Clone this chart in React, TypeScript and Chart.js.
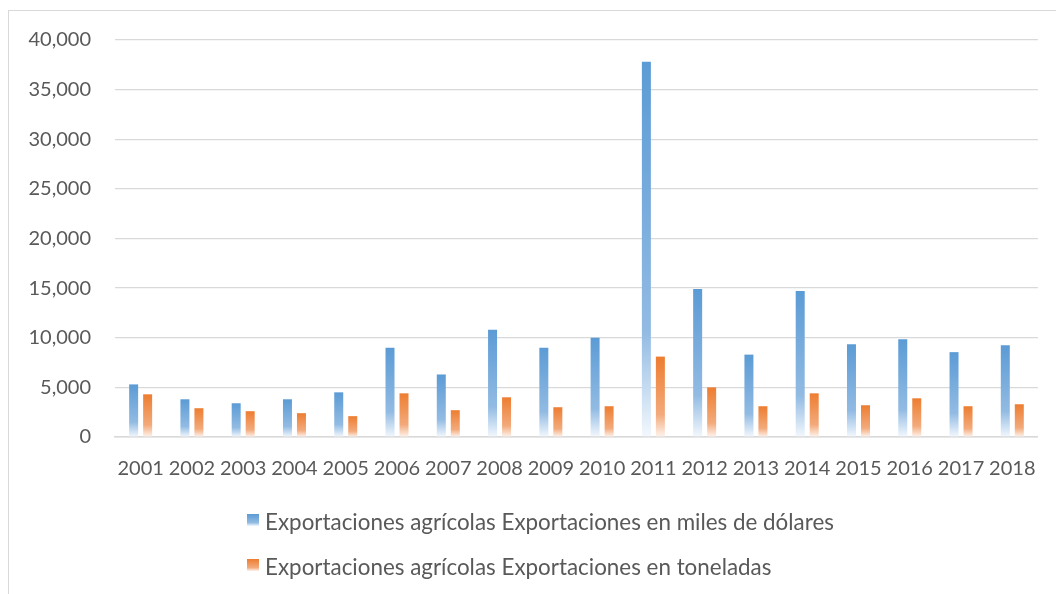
import React, { useEffect, useRef } from 'react';
import { Chart, registerables } from 'chart.js';

Chart.register(...registerables);

const years = ['2001', '2002', '2003', '2004', '2005', '2006', '2007', '2008', '2009', '2010', '2011', '2012', '2013', '2014', '2015', '2016', '2017', '2018'];
const exportsThousandUSD = [5300, 3800, 3400, 3800, 4500, 9000, 6300, 10800, 9000, 10000, 37800, 14900, 8300, 14700, 9350, 9850, 8550, 9250];
const exportsTonnes = [4300, 2900, 2600, 2400, 2100, 4400, 2700, 4000, 3000, 3100, 8100, 5000, 3100, 4400, 3200, 3900, 3100, 3300];
const seriesLabels = [
  'Exportaciones agrícolas Exportaciones en miles de dólares',
  'Exportaciones agrícolas Exportaciones en toneladas',
];
const yMin = 0;
const yMax = 40000;
const yStep = 5000;

const blueStops: [string, string, string] = ['#5B9BD5', '#92BBE3', '#F3F8FD'];
const orangeStops: [string, string, string] = ['#ED7D31', '#F3AA7B', '#FEF4EE'];

const FONT = 'Lato, "Open Sans", sans-serif';
const TEXT = '#595959';
const GRID = '#d9d9d9';

function makeGradient(ctx: CanvasRenderingContext2D, top: number, bottom: number, stops: [string, string, string]) {
  const g = ctx.createLinearGradient(0, top, 0, bottom);
  g.addColorStop(0, stops[0]);
  g.addColorStop(0.72, stops[1]);
  g.addColorStop(1, stops[2]);
  return g;
}

function barFill(stops: [string, string, string]) {
  return (c: any) => {
    const chart = c.chart;
    const y = chart.scales && chart.scales.y;
    if (!chart.chartArea || !y || c.raw === undefined) return stops[0];
    const top = y.getPixelForValue(c.raw);
    const base = y.getPixelForValue(0);
    if (!isFinite(top) || !isFinite(base) || base - top < 1) return stops[0];
    return makeGradient(chart.ctx, top, base, stops);
  };
}

const blockLegend = {
  id: 'blockLegend',
  afterDraw(chart: any) {
    const o = chart.options.plugins.blockLegend;
    const ctx: CanvasRenderingContext2D = chart.ctx;
    ctx.save();
    chart.data.datasets.forEach((ds: any, i: number) => {
      const baseline = o.firstBaseline + i * o.lineGap;
      const boxTop = baseline - o.boxOffset;
      ctx.fillStyle = makeGradient(ctx, boxTop, boxTop + o.box, ds._stops);
      ctx.fillRect(o.left, boxTop, o.box, o.box);
      ctx.fillStyle = TEXT;
      ctx.font = `${o.fontSize}px ${FONT}`;
      ctx.textBaseline = 'alphabetic';
      ctx.textAlign = 'left';
      ctx.fillText(ds.label, o.left + o.box + o.gap, baseline);
    });
    ctx.restore();
  },
};

export default function App() {
  const ref = useRef<HTMLCanvasElement>(null);

  useEffect(() => {
    if (!ref.current) return;
    const chart = new Chart(ref.current, {
      type: 'bar',
      data: {
        labels: years,
        datasets: [
          {
            label: seriesLabels[0],
            data: exportsThousandUSD,
            backgroundColor: barFill(blueStops),
            borderWidth: 0,
            categoryPercentage: 0.546,
            barPercentage: 0.643,
            _stops: blueStops,
          } as any,
          {
            label: seriesLabels[1],
            data: exportsTonnes,
            backgroundColor: barFill(orangeStops),
            borderWidth: 0,
            categoryPercentage: 0.546,
            barPercentage: 0.643,
            _stops: orangeStops,
          } as any,
        ],
      },
      options: {
        animation: false,
        responsive: true,
        maintainAspectRatio: false,
        devicePixelRatio: 1,
        layout: { padding: { top: 40, left: 0, right: 18, bottom: 97 } },
        plugins: {
          legend: { display: false },
          tooltip: { enabled: false },
          blockLegend: {
            left: 247,
            box: 12,
            gap: 6,
            boxOffset: 16,
            firstBaseline: 530,
            lineGap: 45,
            fontSize: 22.4,
          },
        } as any,
        scales: {
          x: {
            grid: { display: false, drawTicks: false },
            border: { display: true, color: GRID, width: 1.5 },
            ticks: {
              color: TEXT,
              font: { family: FONT, size: 20 },
              padding: 20,
              maxRotation: 0,
              autoSkip: false,
            },
            afterFit: (s: any) => {
              s.height = 60;
            },
          },
          y: {
            min: yMin,
            max: yMax,
            grid: { color: GRID, lineWidth: 1.3, drawTicks: false },
            border: { display: false },
            ticks: {
              stepSize: yStep,
              color: TEXT,
              font: { family: FONT, size: 20 },
              padding: 24,
              callback: (v: any) => Number(v).toLocaleString('en-US'),
            },
            afterFit: (s: any) => {
              s.width = 115;
            },
          },
        },
      },
      plugins: [blockLegend as any],
    });
    return () => chart.destroy();
  }, []);

  return (
    <div style={{ position: 'fixed', left: 0, top: 0, width: 1056, height: 594, overflow: 'hidden', background: '#fff' }}>
      <div
        style={{
          position: 'absolute',
          left: 8,
          top: 10,
          width: 1200,
          height: 800,
          border: '1px solid #d9d9d9',
          boxSizing: 'border-box',
        }}
      />
      <div style={{ position: 'absolute', left: 0, top: 0, width: 1056, height: 594 }}>
        <canvas ref={ref} />
      </div>
    </div>
  );
}
